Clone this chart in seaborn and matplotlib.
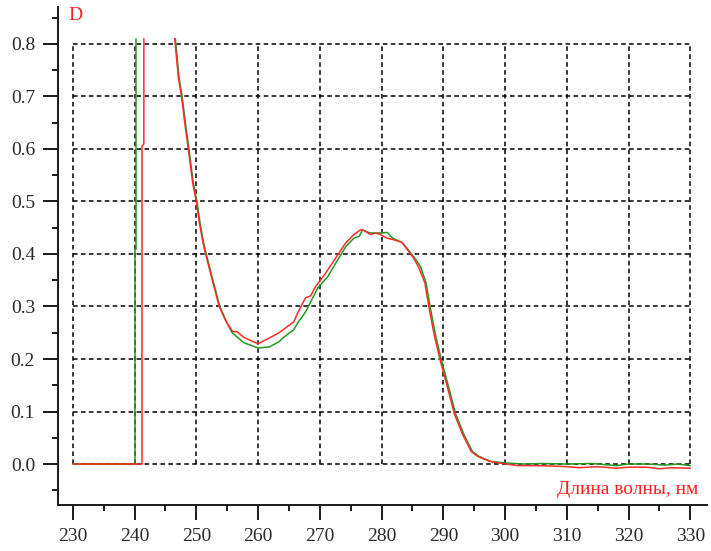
import numpy as np
import pandas as pd
import seaborn as sns
import matplotlib.pyplot as plt
from matplotlib.ticker import MultipleLocator

# wavelength (nm) / optical density
green_jump_wl = [230, 240.0, 240.0, 240.3, 240.3]
green_jump_d = [0.0, 0.0, 0.41, 0.41, 0.81]
green_wl = [246.6, 247.2, 247.7, 248.3, 248.8, 249.5, 250.1, 250.6, 251.2, 251.6,
            252.8, 253.8, 254.9, 255.8, 257.7, 260.0, 261.8, 263.4, 264.0, 265.8,
            266.6, 267.7, 269.7, 271.3, 273.1, 274.2, 275.5, 276.4, 276.9, 278.1,
            279.8, 280.9, 281.8, 283.3, 284.7, 285.5, 286.3, 287.2, 287.9, 288.7,
            289.7, 290.6, 292.0, 293.3, 294.7, 295.7, 297.7, 300, 303, 306,
            310, 314, 318, 320, 323, 326, 328, 330]
green_d = [0.81, 0.735, 0.70, 0.643, 0.60, 0.536, 0.50, 0.459, 0.42, 0.40,
           0.345, 0.30, 0.27, 0.25, 0.231, 0.221, 0.223, 0.233, 0.240, 0.256,
           0.272, 0.290, 0.336, 0.357, 0.393, 0.414, 0.430, 0.434, 0.446, 0.440,
           0.440, 0.441, 0.430, 0.422, 0.402, 0.390, 0.376, 0.345, 0.297, 0.247,
           0.197, 0.158, 0.095, 0.057, 0.024, 0.015, 0.005, 0.002, 0.000, 0.001,
           0.000, 0.001, -0.003, 0.000, 0.000, -0.002, 0.000, -0.003]

red_jump_wl = [230, 241.2, 241.2, 241.5, 241.5]
red_jump_d = [0.0, 0.0, 0.605, 0.61, 0.81]
red_wl = [246.5, 247.1, 247.6, 248.2, 248.7, 249.4, 250.0, 250.5, 251.1, 251.5,
          252.7, 253.7, 254.8, 255.9, 256.6, 257.7, 260.0, 261.5, 263.4, 265.8,
          266.5, 267.7, 268.5, 269.3, 270.8, 273.1, 274.2, 275.5, 276.6, 277.1,
          278.2, 279.0, 279.8, 280.9, 282.0, 283.3, 284.4, 285.3, 286.0, 287.0,
          287.7, 288.5, 289.5, 290.4, 291.8, 293.1, 294.5, 295.5, 297.5, 299.1,
          302, 305, 308, 310, 312, 315, 318, 320, 323, 325,
          327, 330]
red_d = [0.81, 0.735, 0.70, 0.643, 0.60, 0.536, 0.50, 0.459, 0.42, 0.40,
         0.345, 0.30, 0.272, 0.252, 0.252, 0.241, 0.229, 0.238, 0.250, 0.271,
         0.290, 0.317, 0.320, 0.338, 0.361, 0.402, 0.421, 0.437, 0.446, 0.445,
         0.437, 0.440, 0.437, 0.430, 0.427, 0.422, 0.405, 0.390, 0.375, 0.345,
         0.297, 0.247, 0.197, 0.158, 0.095, 0.057, 0.024, 0.015, 0.005, 0.002,
         -0.003, -0.003, -0.004, -0.005, -0.007, -0.005, -0.008, -0.006, -0.006, -0.009,
         -0.007, -0.008]

grid_x = list(range(230, 331, 10))
grid_y = [0.0, 0.1, 0.2, 0.3, 0.4, 0.5, 0.6, 0.7, 0.8]

parts = []
for name, seg, wl, d in [('g', 'g1', green_jump_wl, green_jump_d), ('g', 'g2', green_wl, green_d),
                         ('r', 'r1', red_jump_wl, red_jump_d), ('r', 'r2', red_wl, red_d)]:
    parts.append(pd.DataFrame({'wl': wl, 'D': d, 'serie': name, 'seg': seg}))
df = pd.concat(parts, ignore_index=True)

sns.set_style("white")
plt.rcParams['font.family'] = ['Liberation Serif', 'DejaVu Serif']

fig = plt.figure(figsize=(7.11, 5.51), dpi=100)
ax = fig.add_axes([0.0816, 0.0835, 0.9128, 0.9035])

# dashed grid only inside the data box
ax.vlines(grid_x, 0, 0.8, colors='black', linestyles=(0, (3, 2.2)), lw=1.1, zorder=1)
ax.hlines(grid_y, 230, 330, colors='black', linestyles=(0, (3, 2.2)), lw=1.1, zorder=1)

sns.lineplot(data=df, x='wl', y='D', hue='serie', units='seg', estimator=None, sort=False,
             palette={'g': '#1f9a1f', 'r': '#ff2a2a'}, lw=1.1, legend=False, ax=ax, zorder=3)

ax.set_xlim(227.6, 332.7)
ax.set_ylim(-0.078, 0.87)
ax.xaxis.set_major_locator(MultipleLocator(10))
ax.xaxis.set_minor_locator(MultipleLocator(5))
ax.yaxis.set_major_locator(MultipleLocator(0.1))
ax.yaxis.set_minor_locator(MultipleLocator(0.05))
ax.set_yticks(grid_y)
ax.set_yticklabels([f'{v:.1f}' for v in grid_y])
ax.set_xlabel('')
ax.set_ylabel('')

for s in ['top', 'right']:
    ax.spines[s].set_visible(False)
for s in ['left', 'bottom']:
    ax.spines[s].set_linewidth(1.4)
    ax.spines[s].set_color('#1a1a1a')

ax.tick_params(which='major', direction='out', length=10.5, width=1.4, color='#1a1a1a',
               labelsize=14, labelcolor='#2a2a2a', pad=6, left=True, bottom=True)
ax.tick_params(which='minor', direction='out', length=4.3, width=1.4, color='#1a1a1a',
               left=True, bottom=True)

fig.text(68 / 711, 1 - 7 / 551, 'D', color='#ff2020', fontsize=14, ha='left', va='top')
fig.text(698 / 711, 1 - 490 / 551, 'Длина волны, нм', color='#ff2020', fontsize=14,
         ha='right', va='center')

fig.savefig('out.png', dpi=100)
